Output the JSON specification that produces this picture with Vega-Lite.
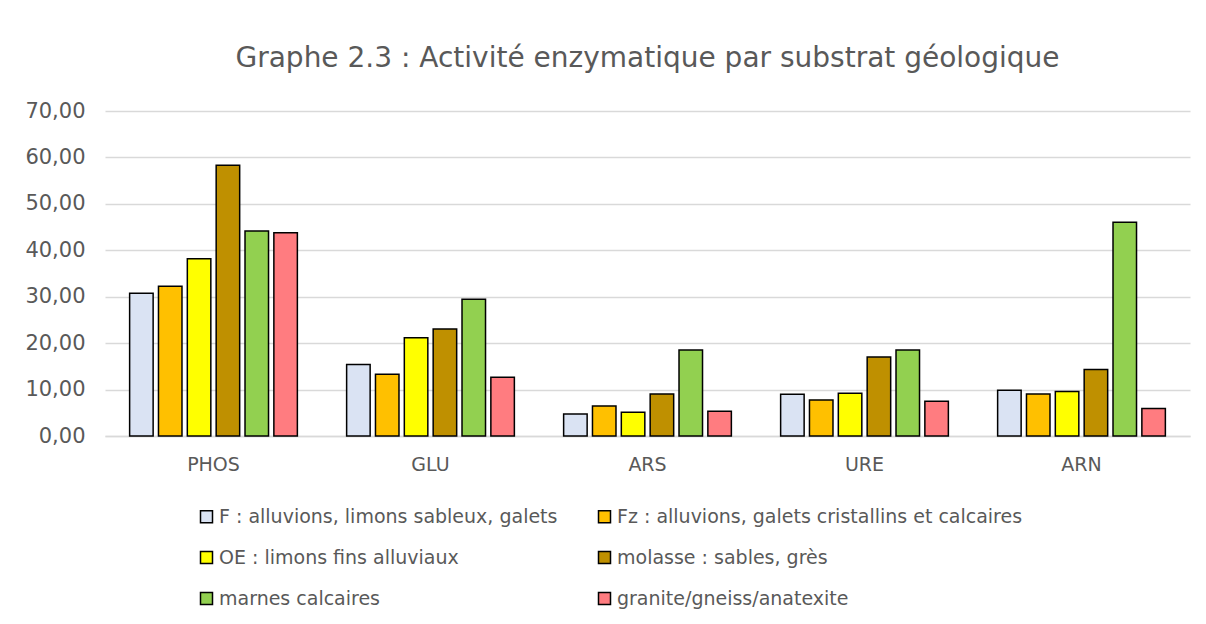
{
  "$schema": "https://vega.github.io/schema/vega-lite/v6.json",
  "width": 1085,
  "height": 325,
  "autosize": {"type": "none"},
  "padding": {"left": 105, "top": 111, "right": 16, "bottom": 188},
  "background": "white",
  "title": {
    "text": "Graphe 2.3 : Activité enzymatique par substrat géologique",
    "font": "DejaVu Sans",
    "fontSize": 28,
    "fontWeight": "normal",
    "color": "#595959",
    "anchor": "middle",
    "offset": 27
  },
  "data": {
    "values": [
      {"enzyme": "PHOS", "substrat": "F : alluvions, limons sableux, galets", "valeur": 30.75},
      {"enzyme": "PHOS", "substrat": "Fz : alluvions, galets cristallins et calcaires", "valeur": 32.26},
      {"enzyme": "PHOS", "substrat": "OE : limons fins alluviaux", "valeur": 38.17},
      {"enzyme": "PHOS", "substrat": "molasse : sables, grès", "valeur": 58.33},
      {"enzyme": "PHOS", "substrat": "marnes calcaires", "valeur": 44.15},
      {"enzyme": "PHOS", "substrat": "granite/gneiss/anatexite", "valeur": 43.79},
      {"enzyme": "GLU", "substrat": "F : alluvions, limons sableux, galets", "valeur": 15.41},
      {"enzyme": "GLU", "substrat": "Fz : alluvions, galets cristallins et calcaires", "valeur": 13.32},
      {"enzyme": "GLU", "substrat": "OE : limons fins alluviaux", "valeur": 21.17},
      {"enzyme": "GLU", "substrat": "molasse : sables, grès", "valeur": 23.04},
      {"enzyme": "GLU", "substrat": "marnes calcaires", "valeur": 29.45},
      {"enzyme": "GLU", "substrat": "granite/gneiss/anatexite", "valeur": 12.67},
      {"enzyme": "ARS", "substrat": "F : alluvions, limons sableux, galets", "valeur": 4.75},
      {"enzyme": "ARS", "substrat": "Fz : alluvions, galets cristallins et calcaires", "valeur": 6.48},
      {"enzyme": "ARS", "substrat": "OE : limons fins alluviaux", "valeur": 5.11},
      {"enzyme": "ARS", "substrat": "molasse : sables, grès", "valeur": 9.07},
      {"enzyme": "ARS", "substrat": "marnes calcaires", "valeur": 18.51},
      {"enzyme": "ARS", "substrat": "granite/gneiss/anatexite", "valeur": 5.33},
      {"enzyme": "URE", "substrat": "F : alluvions, limons sableux, galets", "valeur": 9.0},
      {"enzyme": "URE", "substrat": "Fz : alluvions, galets cristallins et calcaires", "valeur": 7.78},
      {"enzyme": "URE", "substrat": "OE : limons fins alluviaux", "valeur": 9.22},
      {"enzyme": "URE", "substrat": "molasse : sables, grès", "valeur": 17.0},
      {"enzyme": "URE", "substrat": "marnes calcaires", "valeur": 18.51},
      {"enzyme": "URE", "substrat": "granite/gneiss/anatexite", "valeur": 7.49},
      {"enzyme": "ARN", "substrat": "F : alluvions, limons sableux, galets", "valeur": 9.87},
      {"enzyme": "ARN", "substrat": "Fz : alluvions, galets cristallins et calcaires", "valeur": 9.07},
      {"enzyme": "ARN", "substrat": "OE : limons fins alluviaux", "valeur": 9.58},
      {"enzyme": "ARN", "substrat": "molasse : sables, grès", "valeur": 14.33},
      {"enzyme": "ARN", "substrat": "marnes calcaires", "valeur": 46.02},
      {"enzyme": "ARN", "substrat": "granite/gneiss/anatexite", "valeur": 5.91}
    ]
  },
  "mark": {"type": "bar", "stroke": "black", "strokeWidth": 1.5},
  "encoding": {
    "x": {
      "field": "enzyme",
      "type": "nominal",
      "sort": ["PHOS", "GLU", "ARS", "URE", "ARN"],
      "scale": {"paddingInner": 0.227, "paddingOuter": 0.1135},
      "axis": {
        "title": null,
        "labelAngle": 0,
        "ticks": false,
        "domainColor": "#d9d9d9",
        "domainWidth": 1.5,
        "labelFont": "DejaVu Sans",
        "labelFontSize": 19,
        "labelColor": "#595959",
        "labelPadding": 19
      }
    },
    "xOffset": {
      "field": "substrat",
      "type": "nominal",
      "sort": [
        "F : alluvions, limons sableux, galets",
        "Fz : alluvions, galets cristallins et calcaires",
        "OE : limons fins alluviaux",
        "molasse : sables, grès",
        "marnes calcaires",
        "granite/gneiss/anatexite"
      ],
      "scale": {"paddingInner": 0.185, "paddingOuter": 0}
    },
    "y": {
      "field": "valeur",
      "type": "quantitative",
      "scale": {"domain": [0, 70]},
      "axis": {
        "title": null,
        "values": [0, 10, 20, 30, 40, 50, 60, 70],
        "labelExpr": "replace(format(datum.value, '.2f'), '.', ',')",
        "domain": false,
        "ticks": false,
        "gridColor": "#d9d9d9",
        "gridWidth": 1.5,
        "labelFont": "DejaVu Sans",
        "labelFontSize": 21,
        "labelColor": "#595959",
        "labelPadding": 20
      }
    },
    "color": {
      "field": "substrat",
      "type": "nominal",
      "sort": [
        "F : alluvions, limons sableux, galets",
        "Fz : alluvions, galets cristallins et calcaires",
        "OE : limons fins alluviaux",
        "molasse : sables, grès",
        "marnes calcaires",
        "granite/gneiss/anatexite"
      ],
      "scale": {
        "domain": [
          "F : alluvions, limons sableux, galets",
          "Fz : alluvions, galets cristallins et calcaires",
          "OE : limons fins alluviaux",
          "molasse : sables, grès",
          "marnes calcaires",
          "granite/gneiss/anatexite"
        ],
        "range": ["#dae3f3", "#ffc000", "#ffff00", "#bf9000", "#92d050", "#ff7c80"]
      },
      "legend": {
        "title": null,
        "orient": "none",
        "direction": "horizontal",
        "legendX": 92,
        "legendY": 396,
        "columns": 2,
        "columnPadding": 37,
        "rowPadding": 21,
        "symbolType": "square",
        "symbolSize": 144,
        "symbolStrokeColor": "black",
        "symbolStrokeWidth": 1.5,
        "labelFont": "DejaVu Sans",
        "labelFontSize": 19,
        "labelColor": "#595959",
        "labelOffset": 3,
        "labelLimit": 500
      }
    }
  },
  "config": {"view": {"stroke": null}}
}
